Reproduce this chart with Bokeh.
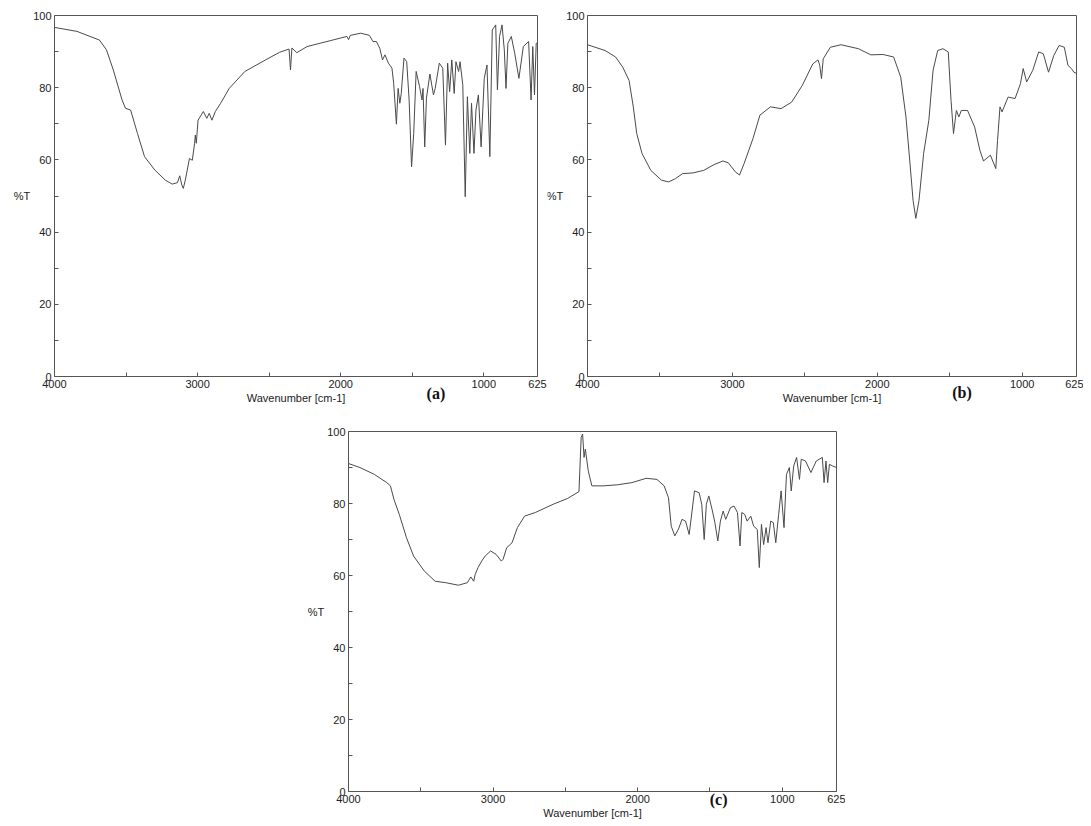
from bokeh.plotting import figure
from bokeh.layouts import column, row
from bokeh.models import Range1d, FixedTicker, Spacer, LinearAxis, Label
from bokeh.embed import file_html
from bokeh.resources import INLINE

# ---------------- data (wavenumber cm-1, %T) ----------------
a_wn = [4000, 3843, 3686, 3637, 3589, 3528, 3504, 3468, 3420, 3371, 3299, 3226, 3178, 3141, 3125, 3110,
        3100, 3086, 3057, 3037, 3021, 3016, 3009, 2997, 2960, 2936, 2919, 2900, 2876, 2839, 2779, 2670,
        2525, 2428, 2361, 2351, 2341, 2307, 2235, 2066, 1957, 1945, 1933, 1860, 1800, 1775, 1751, 1727,
        1708, 1691, 1667, 1642, 1630, 1611, 1599, 1587, 1577, 1558, 1539, 1522, 1505, 1490, 1473, 1449,
        1432, 1425, 1413, 1401, 1377, 1352, 1340, 1311, 1287, 1268, 1253, 1239, 1224, 1207, 1195, 1176,
        1166, 1147, 1130, 1115, 1098, 1086, 1069, 1055, 1038, 1019, 997, 978, 958, 941, 917, 905,
        890, 873, 857, 845, 832, 808, 784, 755, 724, 687, 670, 658, 646, 634, 625]
a_t = [96.7, 95.6, 93.2, 90.5, 84.9, 76.6, 74.3, 73.8, 67.3, 60.9, 57.2, 54.4, 53.3, 53.7, 55.6, 53.0,
       52.1, 54.4, 60.4, 59.9, 64.6, 66.9, 64.6, 71.0, 73.4, 71.5, 72.9, 71.0, 73.4, 75.7, 79.8, 84.5,
       87.7, 89.8, 90.7, 84.9, 91.0, 89.7, 91.4, 93.1, 94.2, 93.3, 94.5, 95.1, 94.5, 92.8, 92.8, 90.9,
       87.7, 89.1, 86.8, 85.4, 81.2, 69.9, 79.8, 75.7, 78.4, 88.2, 87.2, 76.6, 58.1, 67.3, 84.5, 80.3,
       76.6, 79.8, 63.6, 77.1, 83.8, 78.0, 79.8, 86.8, 85.4, 64.1, 86.8, 78.9, 87.7, 78.4, 87.2, 84.5,
       87.2, 80.8, 49.8, 77.5, 61.8, 75.7, 61.8, 73.8, 78.0, 63.6, 82.6, 86.3, 60.9, 96.0, 97.4, 79.4,
       94.2, 97.4, 90.5, 79.8, 92.3, 94.2, 89.5, 82.6, 91.4, 92.8, 76.6, 91.4, 78.0, 92.3, 92.5]

b_wn = [4000, 3879, 3806, 3757, 3713, 3684, 3660, 3624, 3563, 3490, 3441, 3393, 3344, 3271, 3198, 3126,
        3065, 3028, 2980, 2951, 2919, 2858, 2810, 2737, 2664, 2591, 2518, 2445, 2409, 2397, 2385, 2373,
        2324, 2251, 2130, 2045, 1960, 1887, 1838, 1802, 1778, 1753, 1734, 1712, 1680, 1644, 1615, 1583,
        1547, 1510, 1491, 1474, 1454, 1437, 1420, 1377, 1328, 1292, 1267, 1219, 1182, 1170, 1153, 1139,
        1097, 1049, 1012, 993, 969, 927, 886, 854, 818, 782, 745, 709, 684, 660, 643, 625]
b_t = [91.9, 90.3, 88.5, 85.7, 82.0, 74.7, 67.3, 61.8, 57.1, 54.4, 53.9, 54.8, 56.2, 56.4, 57.1, 58.7,
       59.7, 59.2, 56.7, 55.8, 59.0, 65.9, 72.4, 74.7, 74.2, 76.0, 80.6, 86.6, 87.7, 86.2, 82.5, 88.0,
       91.2, 91.9, 90.8, 89.1, 89.2, 88.5, 82.9, 71.9, 60.8, 48.8, 43.8, 48.8, 61.8, 71.0, 84.8, 90.3,
       90.8, 89.9, 76.5, 67.3, 73.7, 71.9, 73.7, 73.7, 69.1, 62.7, 59.7, 61.3, 57.6, 65.4, 74.7, 73.3,
       77.4, 77.0, 81.1, 85.3, 81.6, 84.8, 89.9, 89.4, 84.3, 88.9, 91.7, 91.2, 86.2, 85.3, 84.3, 84.0]

c_wn = [4000, 3921, 3822, 3735, 3710, 3686, 3649, 3599, 3550, 3475, 3401, 3327, 3240, 3178, 3154, 3134,
        3124, 3104, 3079, 3055, 3017, 2980, 2943, 2931, 2906, 2869, 2832, 2782, 2708, 2584, 2485, 2406,
        2391, 2381, 2371, 2362, 2342, 2317, 2238, 2139, 2040, 1941, 1867, 1817, 1787, 1768, 1743, 1718,
        1693, 1669, 1644, 1624, 1607, 1575, 1557, 1540, 1525, 1508, 1483, 1466, 1446, 1428, 1409, 1391,
        1359, 1334, 1310, 1292, 1280, 1260, 1243, 1218, 1198, 1173, 1159, 1144, 1129, 1112, 1099, 1080,
        1062, 1045, 1025, 1008, 988, 971, 951, 938, 921, 901, 881, 869, 839, 802, 765, 723, 711, 698,
        686, 674, 651, 625]
c_t = [91.1, 90.0, 88.1, 85.8, 84.9, 81.2, 77.0, 70.5, 65.4, 61.2, 58.4, 58.0, 57.3, 58.0, 59.6, 58.4,
       60.3, 62.2, 64.0, 65.4, 66.8, 65.9, 64.0, 64.5, 67.7, 69.1, 73.3, 76.5, 77.5, 79.8, 81.4, 83.3,
       98.3, 99.3, 92.8, 95.1, 89.1, 84.9, 84.9, 85.2, 85.8, 87.0, 86.7, 84.9, 81.6, 73.7, 71.0, 72.9,
       75.6, 75.1, 71.4, 77.9, 83.5, 83.0, 79.8, 70.0, 79.8, 82.1, 77.9, 74.7, 69.6, 75.1, 77.9, 75.6,
       78.8, 79.3, 77.5, 68.2, 77.5, 77.0, 75.1, 76.5, 73.7, 72.8, 62.2, 74.2, 68.6, 73.3, 69.1, 75.1,
       74.7, 69.1, 77.0, 83.5, 73.3, 88.1, 90.0, 83.5, 90.4, 92.8, 86.7, 92.3, 91.8, 88.6, 91.8, 92.8,
       85.8, 91.8, 85.8, 90.9, 90.4, 90.0]

x_ticks = [4000, 3500, 3000, 2500, 2000, 1500, 1000, 625]
x_tick_labels = {4000: "4000", 3500: "", 3000: "3000", 2500: "", 2000: "2000", 1500: "", 1000: "1000", 625: "625"}
y_ticks = [0, 10, 20, 30, 40, 50, 60, 70, 80, 90, 100]
y_tick_labels = {0: "0", 10: "", 20: "20", 30: "", 40: "40", 50: "", 60: "60", 70: "", 80: "80", 90: "", 100: "100"}

X_HI, X_LO, Y_LO, Y_HI = 4000, 625, 0, 100
FONT = "Liberation Sans"
LINE = "#4a4a4a"
FRAME = "#555555"
TXT = "#222222"


def style_axis(ax):
    ax.axis_line_color = FRAME
    ax.axis_line_width = 1
    ax.major_tick_line_color = FRAME
    ax.major_tick_in = 4
    ax.major_tick_out = 0
    ax.minor_tick_line_color = None
    ax.major_label_text_font = FONT
    ax.major_label_text_font_size = "11px"
    ax.major_label_text_color = TXT
    ax.axis_label_text_font = FONT
    ax.axis_label_text_font_style = "normal"
    ax.axis_label_text_font_size = "11px"
    ax.axis_label_text_color = TXT


def make_panel(wn, t, tag, tag_x, tag_y, fig_x0, fig_y0, fig_w, fig_h, L, T, R, B):
    """Panel whose spectrum box spans page pixels L..R, T..B; the canvas covers the rest."""
    sx = (R - L) / (X_HI - X_LO)
    sy = (B - T) / (Y_HI - Y_LO)
    xr = Range1d(X_HI + (L - fig_x0) / sx, X_LO - (fig_x0 + fig_w - R) / sx)
    yr = Range1d(Y_LO - (fig_y0 + fig_h - B) / sy, Y_HI + (T - fig_y0) / sy)
    p = figure(width=fig_w, height=fig_h, output_backend="svg", toolbar_location=None,
               x_range=xr, y_range=yr, x_axis_location=None, y_axis_location=None,
               min_border=0, outline_line_color=None,
               background_fill_color="white", border_fill_color="white")
    p.grid.visible = False
    p.line(wn, t, line_color=LINE, line_width=1)

    xb = LinearAxis(fixed_location=Y_LO, bounds=(X_HI, X_LO), ticker=FixedTicker(ticks=x_ticks),
                    major_label_overrides=x_tick_labels, major_label_standoff=3,
                    axis_label="Wavenumber [cm-1]", axis_label_standoff=1)
    style_axis(xb)
    p.add_layout(xb, "below")

    xt = LinearAxis(fixed_location=Y_HI, bounds=(X_HI, X_LO), ticker=FixedTicker(ticks=[]))
    style_axis(xt)
    p.add_layout(xt, "above")

    yl = LinearAxis(fixed_location=X_HI, bounds=(Y_LO, Y_HI), ticker=FixedTicker(ticks=y_ticks),
                    major_label_overrides=y_tick_labels, major_label_standoff=3,
                    axis_label="%T", axis_label_orientation="horizontal", axis_label_standoff=0)
    style_axis(yl)
    p.add_layout(yl, "left")

    yr_ax = LinearAxis(fixed_location=X_LO, bounds=(Y_LO, Y_HI), ticker=FixedTicker(ticks=[]))
    style_axis(yr_ax)
    p.add_layout(yr_ax, "right")

    p.add_layout(Label(x=tag_x, y=tag_y, text=tag, text_font="Liberation Serif", text_font_style="bold",
                       text_font_size="16px", text_color="#111111", text_align="center",
                       text_baseline="middle"))
    return p


pa = make_panel(a_wn, a_t, "(a)", 1335, -4.6, 0, 0, 547, 405, 54, 15, 537, 376)
pb = make_panel(b_wn, b_t, "(b)", 1415, -4.4, 547, 0, 536, 405, 587, 15, 1076, 376)
pc = make_panel(c_wn, c_t, "(c)", 1440, -2.3, 300, 405, 545, 418, 348, 431, 836, 791)

layout = column(row(pa, pb), row(Spacer(width=300, height=418), pc))

open("out.html", "w").write(file_html(layout, INLINE))
